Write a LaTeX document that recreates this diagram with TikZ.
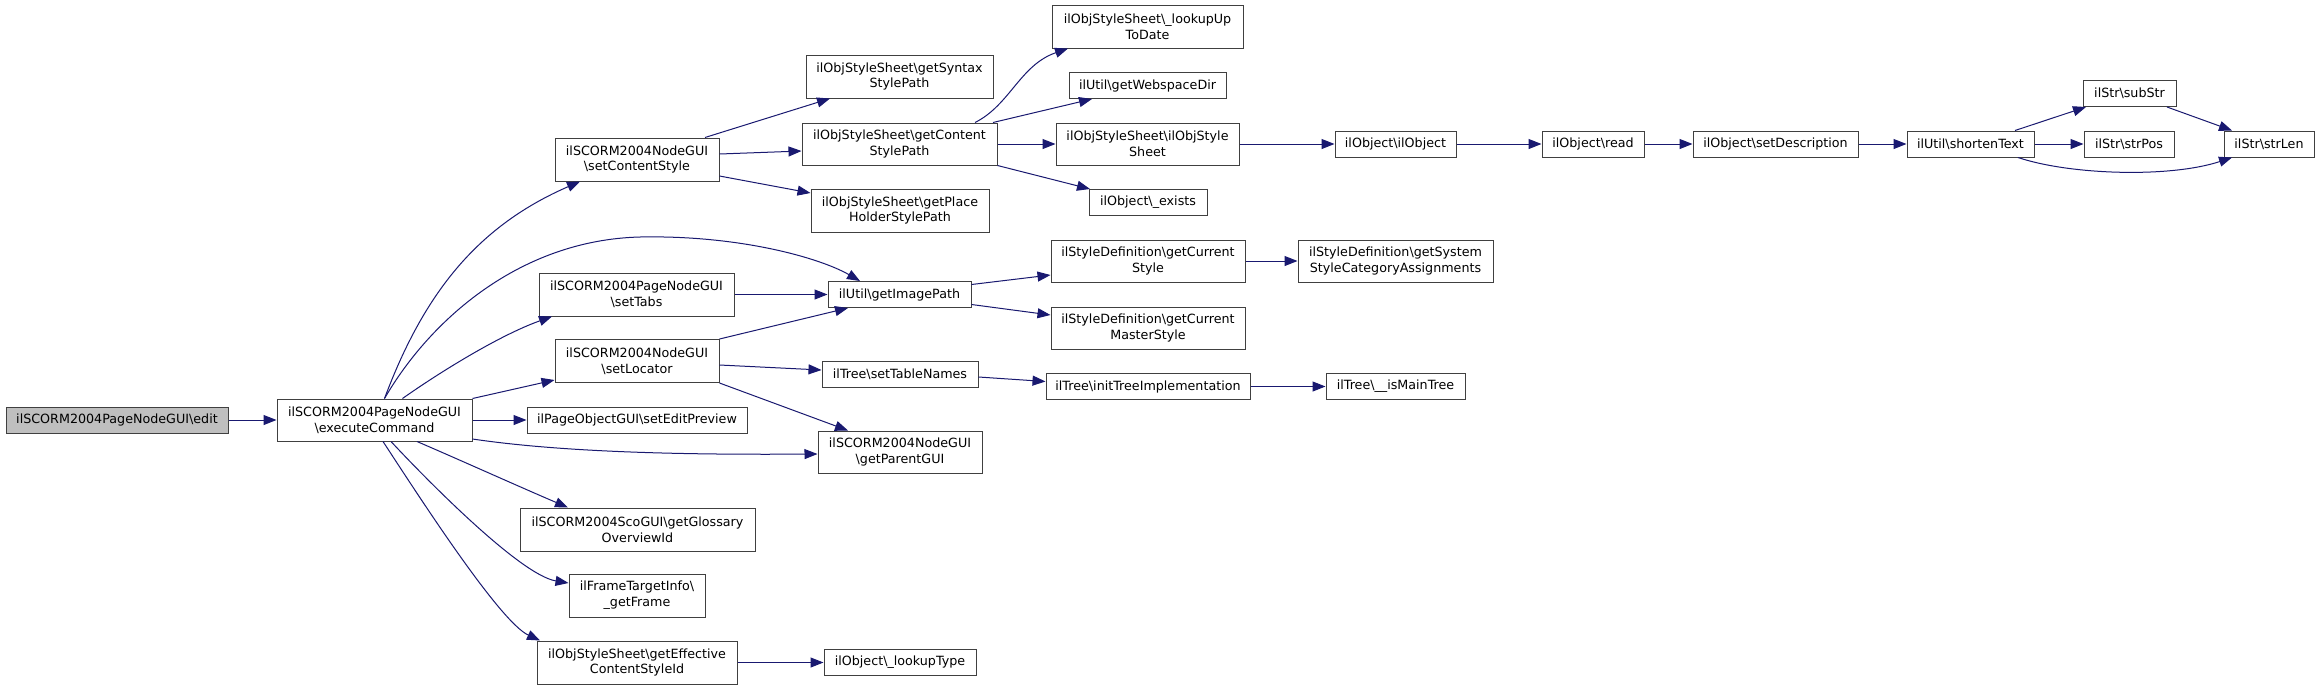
\documentclass[tikz,border=0pt]{standalone}
\usepackage{fontspec}
\setmainfont{DejaVu Sans}
\usetikzlibrary{arrows.meta}
\definecolor{edgec}{HTML}{191970}
\definecolor{boxc}{HTML}{404040}
\definecolor{rootfill}{HTML}{BFBFBF}
\newcommand\BS{\textbackslash}
\begin{document}
\begin{tikzpicture}[x=1pt,y=-1pt,
  box/.style={draw=boxc,line width=1pt,fill=white,inner sep=0pt,align=center,
    font=\fontsize{12.7}{15.7}\selectfont},
  edge/.style={draw=edgec,line width=1pt,-{Triangle[length=13pt,width=10pt]}}]
\useasboundingbox[fill=white] (0,0) rectangle (2320,689);
% nodes
\node[box,fill=rootfill,minimum width=222pt,minimum height=26pt] (edit) at (117,420) {ilSCORM2004PageNodeGUI\BS edit};
\node[box,minimum width=195pt,minimum height=42pt] (exec) at (374.5,420) {ilSCORM2004PageNodeGUI\\\BS executeCommand};
\node[box,minimum width=164pt,minimum height=43pt] (scs) at (637,159.5) {ilSCORM2004NodeGUI\\\BS setContentStyle};
\node[box,minimum width=195pt,minimum height=43pt] (stabs) at (636.5,294.5) {ilSCORM2004PageNodeGUI\\\BS setTabs};
\node[box,minimum width=164pt,minimum height=43pt] (sloc) at (637,361) {ilSCORM2004NodeGUI\\\BS setLocator};
\node[box,minimum width=220pt,minimum height=26pt] (sep) at (637,420) {ilPageObjectGUI\BS setEditPreview};
\node[box,minimum width=235pt,minimum height=43pt] (glo) at (637.5,529.5) {ilSCORM2004ScoGUI\BS getGlossary\\OverviewId};
\node[box,minimum width=136pt,minimum height=43pt] (gf) at (637,595.5) {ilFrameTargetInfo\BS\\\_getFrame};
\node[box,minimum width=200pt,minimum height=43pt] (gec) at (637,662.5) {ilObjStyleSheet\BS getEffective\\ContentStyleId};
\node[box,minimum width=187pt,minimum height=43pt] (gss) at (899.5,76.5) {ilObjStyleSheet\BS getSyntax\\StylePath};
\node[box,minimum width=195pt,minimum height=42pt] (gcp) at (899.5,144) {ilObjStyleSheet\BS getContent\\StylePath};
\node[box,minimum width=178pt,minimum height=43pt] (ghp) at (900,210.5) {ilObjStyleSheet\BS getPlace\\HolderStylePath};
\node[box,minimum width=143pt,minimum height=26pt] (gip) at (899.5,294.5) {ilUtil\BS getImagePath};
\node[box,minimum width=156pt,minimum height=26pt] (stn) at (900,374) {ilTree\BS setTableNames};
\node[box,minimum width=164pt,minimum height=42pt] (gpg) at (900,452) {ilSCORM2004NodeGUI\\\BS getParentGUI};
\node[box,minimum width=152pt,minimum height=26pt] (lkt) at (900,662.5) {ilObject\BS\_lookupType};
\node[box,minimum width=191pt,minimum height=43pt] (lut) at (1147.5,26.5) {ilObjStyleSheet\BS\_lookupUp\\ToDate};
\node[box,minimum width=157pt,minimum height=26pt] (gwd) at (1147.5,85.5) {ilUtil\BS getWebspaceDir};
\node[box,minimum width=183pt,minimum height=42pt] (ctor) at (1147.5,144) {ilObjStyleSheet\BS ilObjStyle\\Sheet};
\node[box,minimum width=118pt,minimum height=26pt] (ex) at (1148,202.5) {ilObject\BS\_exists};
\node[box,minimum width=194pt,minimum height=42pt] (gcs) at (1148,261) {ilStyleDefinition\BS getCurrent\\Style};
\node[box,minimum width=194pt,minimum height=42pt] (gcms) at (1148,328) {ilStyleDefinition\BS getCurrent\\MasterStyle};
\node[box,minimum width=204pt,minimum height=26pt] (init) at (1148,386.5) {ilTree\BS initTreeImplementation};
\node[box,minimum width=195pt,minimum height=42pt] (gssca) at (1395.5,261) {ilStyleDefinition\BS getSystem\\StyleCategoryAssignments};
\node[box,minimum width=121pt,minimum height=26pt] (ilo) at (1395.5,144) {ilObject\BS ilObject};
\node[box,minimum width=139pt,minimum height=26pt] (ismt) at (1395.5,386.5) {ilTree\BS\_\_isMainTree};
\node[box,minimum width=102pt,minimum height=26pt] (rd) at (1593,144) {ilObject\BS read};
\node[box,minimum width=165pt,minimum height=26pt] (sdesc) at (1775.5,144) {ilObject\BS setDescription};
\node[box,minimum width=127pt,minimum height=26pt] (sht) at (1970.5,144) {ilUtil\BS shortenText};
\node[box,minimum width=93pt,minimum height=26pt] (sub) at (2129.5,93.5) {ilStr\BS subStr};
\node[box,minimum width=90pt,minimum height=26pt] (spos) at (2129,144) {ilStr\BS strPos};
\node[box,minimum width=90pt,minimum height=26pt] (slen) at (2269,144) {ilStr\BS strLen};
% edges
\draw[edge] (edit.east) -- (exec.west);
\draw[edge] ([xshift=10pt]exec.north) .. controls (425,290) and (480,225) .. ([xshift=-57pt]scs.south);
\draw[edge] ([xshift=10pt]exec.north) .. controls (430,320) and (520,240) .. (640,237)
  .. controls (740,235) and (820,258) .. ([xshift=-39.5pt]gip.north);
\draw[edge] ([xshift=28pt]exec.north) .. controls (440,372) and (500,335) .. ([xshift=-84.5pt]stabs.south);
\draw[edge] (exec.north east) -- ([yshift=-19pt]sloc.west);
\draw[edge] (exec.east) -- (sep.west);
\draw[edge] ([yshift=-19pt]exec.east) .. controls (560,452) and (680,455) .. ([yshift=-2pt]gpg.west);
\draw[edge] ([xshift=42.5pt]exec.south) .. controls (460,460) and (520,487) .. ([xshift=-69.5pt]glo.north);
\draw[edge] ([xshift=16.5pt]exec.south) .. controls (425,478) and (520,575) .. ([yshift=12.5pt]gf.west);
\draw[edge] ([xshift=8.5pt]exec.south) .. controls (420,498) and (500,622) .. ([xshift=-97pt]gec.north);
\draw[edge] ([xshift=68pt]scs.north) -- ([xshift=-69.5pt]gss.south);
\draw[edge] ([yshift=5.5pt]scs.east) -- ([yshift=-7pt]gcp.west);
\draw[edge] ([yshift=-16.5pt]scs.east) -- ([yshift=17.5pt]ghp.west);
\draw[edge] ([xshift=75.5pt]gcp.north) .. controls (1010,105) and (1020,65) .. ([xshift=-79.5pt]lut.south);
\draw[edge] ([xshift=93.5pt]gcp.north) -- ([xshift=-55.5pt]gwd.south);
\draw[edge] (gcp.east) -- (ctor.west);
\draw[edge] (gcp.south east) -- ([xshift=-58pt]ex.north);
\draw[edge] (ctor.east) -- (ilo.west);
\draw[edge] (ilo.east) -- (rd.west);
\draw[edge] (rd.east) -- (sdesc.west);
\draw[edge] (sdesc.east) -- (sht.west);
\draw[edge] (sht.east) -- (spos.west);
\draw[edge] ([xshift=44.5pt]sht.north) -- ([xshift=-43.5pt]sub.south);
\draw[edge] ([xshift=37.5pt]sub.south) -- ([xshift=-37pt]slen.north);
\draw[edge] ([xshift=47.5pt]sht.south) .. controls (2070,175) and (2170,178) .. ([xshift=-37pt]slen.south);
\draw[edge] (stabs.east) -- (gip.west);
\draw[edge] (sloc.north east) -- ([xshift=-51.5pt]gip.south);
\draw[edge] ([yshift=-4pt]sloc.east) -- ([yshift=4pt]stn.west);
\draw[edge] (sloc.south east) -- ([xshift=-52pt]gpg.north);
\draw[edge] ([yshift=10pt]gip.east) -- ([yshift=-14pt]gcs.west);
\draw[edge] ([yshift=-10pt]gip.east) -- ([yshift=13pt]gcms.west);
\draw[edge] (gcs.east) -- (gssca.west);
\draw[edge] ([yshift=-3pt]stn.east) -- ([yshift=5pt]init.west);
\draw[edge] (init.east) -- (ismt.west);
\draw[edge] (gec.east) -- (lkt.west);
\end{tikzpicture}
\end{document}
